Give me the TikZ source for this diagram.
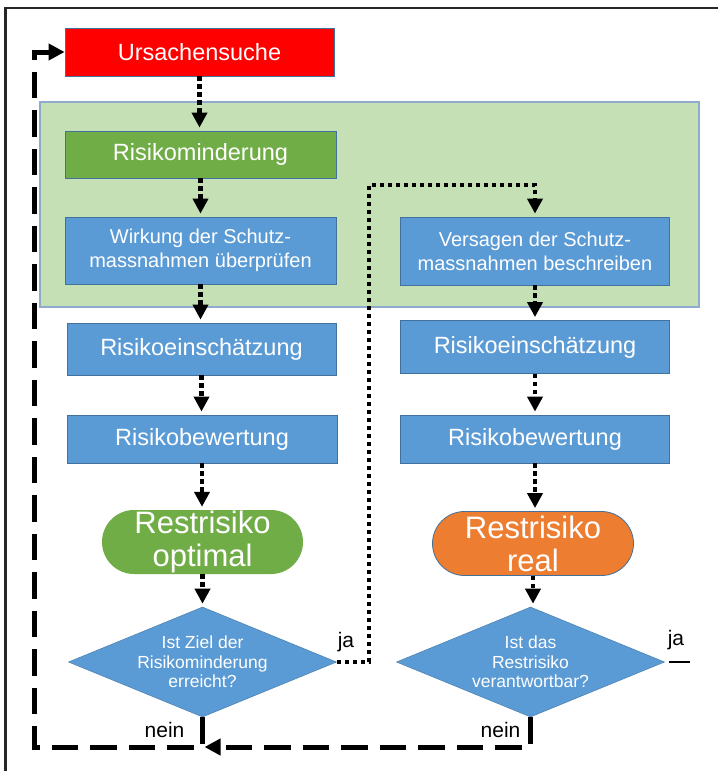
\documentclass[tikz,border=0pt]{standalone}
\usepackage{fontspec}
\setmainfont{Liberation Sans}
\usetikzlibrary{arrows.meta,shapes.geometric}

\definecolor{ofblue}{HTML}{5B9BD5}
\definecolor{ofedge}{HTML}{41719C}
\definecolor{ofgreen}{HTML}{70AD47}
\definecolor{oforange}{HTML}{ED7D31}
\definecolor{ofred}{HTML}{FF0000}
\definecolor{bggreen}{HTML}{C5E0B4}
\definecolor{bgedge}{HTML}{8FAACC}

\tikzset{
  box/.style={draw=ofedge, line width=0.8pt, fill=ofblue, text=white,
    inner sep=0pt, align=center, font=\fontsize{23.5}{28}\selectfont},
  twoline/.style={font=\fontsize{20}{24}\selectfont},
  stadium/.style={rounded corners=32pt, inner sep=0pt, text=white, align=center,
    font=\fontsize{31}{33}\selectfont, minimum width=201pt, minimum height=64pt},
  decision/.style={diamond, aspect=2.44, fill=ofblue, draw=ofblue!85!black, line width=0.6pt,
    inner sep=0pt, text=white, align=center, font=\fontsize{17.5}{19.5}\selectfont,
    minimum width=268pt, minimum height=110pt},
  dotflow/.style={line width=4.5pt, dash pattern=on 4.5pt off 3.5pt,
    -{Triangle[length=15pt,width=15pt]}, shorten >=3pt},
  loopflow/.style={line width=5pt, dash pattern=on 26.5pt off 12pt,
    -{Triangle[length=16pt,width=16pt]}},
  answer/.style={font=\fontsize{21}{24}\selectfont, anchor=base, inner sep=0pt},
}

\begin{document}
\begin{tikzpicture}[x=1pt,y=-1pt]
  % page
  \fill[white] (0,0) rectangle (718,771);
  \useasboundingbox (0,0) rectangle (718,771);
  \draw[line width=2.2pt, black!85] (5.5,771) -- (5.5,8) -- (718,8);

  % shaded zone of the mitigation steps
  \draw[fill=bggreen, draw=bgedge, line width=1.2pt] (40,102) rectangle (699,307);

  % process steps
  \node[box, fill=ofred, minimum width=269pt, minimum height=48pt] (urs) at (199.5,52) {Ursachensuche};
  \node[box, fill=ofgreen, minimum width=271pt, minimum height=47pt] (rm) at (200.5,154.5) {Risikominderung};
  \node[box, twoline, minimum width=271pt, minimum height=67pt] (wirk) at (200.5,250.5) {Wirkung der Schutz-\\massnahmen überprüfen};
  \node[box, twoline, minimum width=269pt, minimum height=68pt] (vers) at (535,251) {Versagen der Schutz-\\massnahmen beschreiben};
  \node[box, minimum width=269pt, minimum height=52pt] (re1) at (201.5,349) {Risikoeinschätzung};
  \node[box, minimum width=269pt, minimum height=53pt] (re2) at (535,347) {Risikoeinschätzung};
  \node[box, minimum width=270pt, minimum height=48pt] (rb1) at (202,439) {Risikobewertung};
  \node[box, minimum width=269pt, minimum height=48pt] (rb2) at (535,439) {Risikobewertung};
  \node[stadium, fill=ofgreen] (ro) at (202.5,542) {Restrisiko\\optimal};
  \node[stadium, fill=oforange, draw=ofedge, line width=0.8pt] (rr) at (533,543.5) {Restrisiko\\real};
  \node[decision] (d1) at (202.5,662) {Ist Ziel der\\Risikominderung\\erreicht?};
  \node[decision] (d2) at (530.5,662) {Ist das\\Restrisiko\\verantwortbar?};

  % answers
  \node[answer] (ja1) at (346,647.5) {ja};
  \node[answer] (ja2) at (676,645.5) {ja};
  \node[answer] (nein1) at (164.5,737) {nein};
  \node[answer] (nein2) at (500.5,737) {nein};

  % main flow
  \foreach \a/\b in {urs/rm, rm/wirk, wirk/re1, re1/rb1, rb1/ro, ro/d1,
                     vers/re2, re2/rb2, rb2/rr, rr/d2}
    \draw[dotflow] (\a.south) -- (\a.south |- \b.north);

  % "ja" branch of the first decision
  \coordinate (jaTurn) at (369,185);
  \draw[dotflow] (d1.east) -| (jaTurn) -| (vers.north);

  % "ja" stub of the second decision
  \coordinate (jaStub) at (690,662);
  \draw[line width=1.6pt] ([xshift=4pt]d2.east) -- (jaStub);

  % "nein" loops back to the cause analysis
  \coordinate (loopCorner) at (34,747);
  \draw[loopflow] (d1.south) |- (loopCorner) |- (urs.west);
  \draw[loopflow, shorten >=2pt] (d2.south) |- (d1.south |- loopCorner);
\end{tikzpicture}
\end{document}
